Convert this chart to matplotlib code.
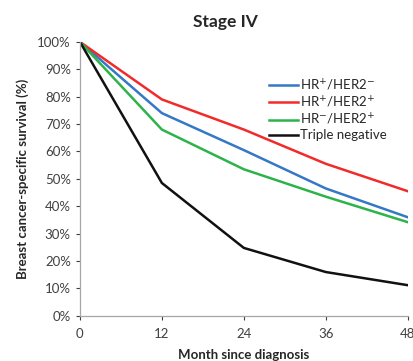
import matplotlib.pyplot as plt
from matplotlib.ticker import PercentFormatter

months = [0, 12, 24, 36, 48]
hr_pos_her2_neg = [100, 74, 60.5, 46.5, 36]
hr_pos_her2_pos = [100, 79, 68, 55.5, 45.5]
hr_neg_her2_pos = [100, 68, 53.5, 43.5, 34.2]
triple_negative = [100, 48.5, 24.8, 16, 11.2]

plt.rcParams['font.family'] = ['Lato', 'DejaVu Sans']
tick_color = '#404040'

fig = plt.figure(figsize=(4.14, 3.61), dpi=100)
ax = fig.add_axes([0.193, 0.125, 0.792, 0.759])

ax.plot(months, hr_pos_her2_neg, color='#3478C6', lw=1.8, label='HR$^{+}$/HER2$^{-}$')
ax.plot(months, hr_pos_her2_pos, color='#F22A2A', lw=1.8, label='HR$^{+}$/HER2$^{+}$')
ax.plot(months, hr_neg_her2_pos, color='#2EB34A', lw=1.8, label='HR$^{-}$/HER2$^{+}$')
ax.plot(months, triple_negative, color='#111111', lw=1.8, label='Triple negative')

ax.set_xlim(0, 48)
ax.set_ylim(0, 100)
ax.set_xticks(months)
ax.set_yticks(range(0, 101, 10))
ax.yaxis.set_major_formatter(PercentFormatter(decimals=0))
ax.tick_params(colors=tick_color, labelsize=9.5, length=3, width=0.8)
ax.tick_params(axis='x', pad=6)

for side in ['top', 'right']:
    ax.spines[side].set_visible(False)
for side in ['left', 'bottom']:
    ax.spines[side].set_color('#A6A6A6')
    ax.spines[side].set_linewidth(0.9)

ax.set_title('Stage IV', fontsize=12.5, fontweight='bold', color='#262626', x=0.445, pad=11)
ax.set_xlabel('Month since diagnosis', fontsize=9.5, fontweight='bold', color='#262626', labelpad=6)
ax.set_ylabel('Breast cancer-specific survival (%)', fontsize=9.5, fontweight='bold', color='#262626', labelpad=6)

leg = ax.legend(loc='upper left', bbox_to_anchor=(0.56, 0.89), frameon=False,
                fontsize=9.5, handlelength=2.2, handletextpad=0.2,
                labelspacing=0.15, borderaxespad=0)
for text in leg.get_texts():
    text.set_color('#262626')

fig.savefig('out.png', dpi=100)
